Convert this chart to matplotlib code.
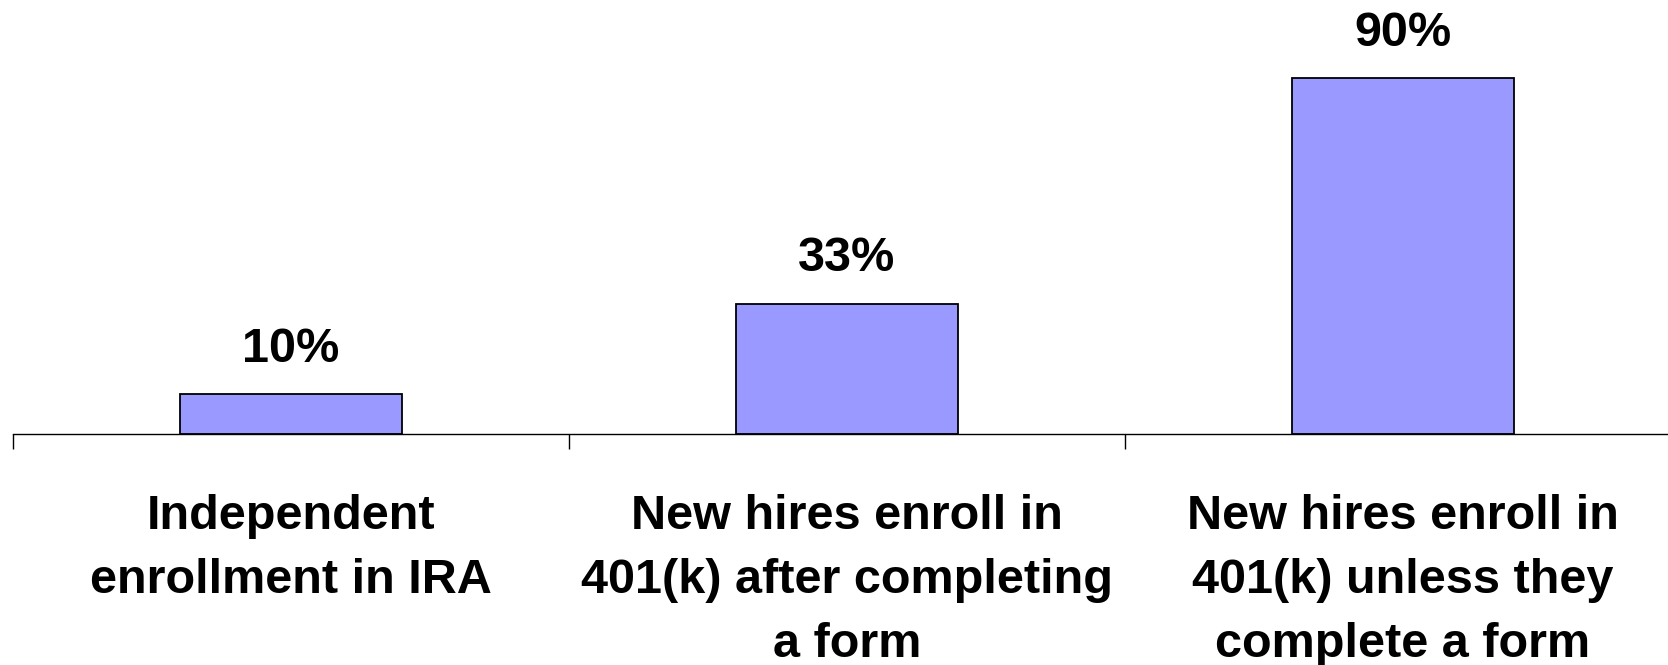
import matplotlib
matplotlib.use("Agg")
import matplotlib.pyplot as plt
import numpy as np

# Enrollment rates by scheme
categories = [
    "Independent\nenrollment in IRA",
    "New hires enroll in\n401(k) after completing\na form",
    "New hires enroll in\n401(k) unless they\ncomplete a form",
]
rates = [10, 33, 90]
value_labels = ["10%", "33%", "90%"]

plt.rcParams["font.family"] = ["Liberation Sans", "DejaVu Sans"]

fig = plt.figure(figsize=(16.68, 6.65), dpi=100)
# axes spans the full figure width from the left edge of the first category
ax = fig.add_axes([13 / 1668, 0.3474, 1.0, 0.594])

x = np.arange(len(categories))
bars = ax.bar(x, rates, width=0.4, color="#9999FF", edgecolor="black", linewidth=1.3)

for bar, lab in zip(bars, value_labels):
    ax.annotate(lab, (bar.get_x() + bar.get_width() / 2, bar.get_height()),
                xytext=(0, 16.5), textcoords="offset points",
                ha="center", va="bottom", fontsize=35, fontweight="bold")

ax.set_xlim(-0.5, len(categories) - 0.5)
ax.set_ylim(0, 100)

# labels at category centres, tick marks at category boundaries
ax.set_xticks(x)
ax.set_xticklabels(categories, fontsize=35, fontweight="bold", linespacing=1.54)
ax.tick_params(axis="x", which="major", length=0, pad=43)
ax.set_xticks(np.arange(len(categories) + 1) - 0.5, minor=True)
ax.tick_params(axis="x", which="minor", length=11, width=1, direction="out")

ax.set_yticks([])
for side in ["top", "right", "left"]:
    ax.spines[side].set_visible(False)
ax.spines["bottom"].set_linewidth(1)

fig.savefig("out.png", dpi=100)
